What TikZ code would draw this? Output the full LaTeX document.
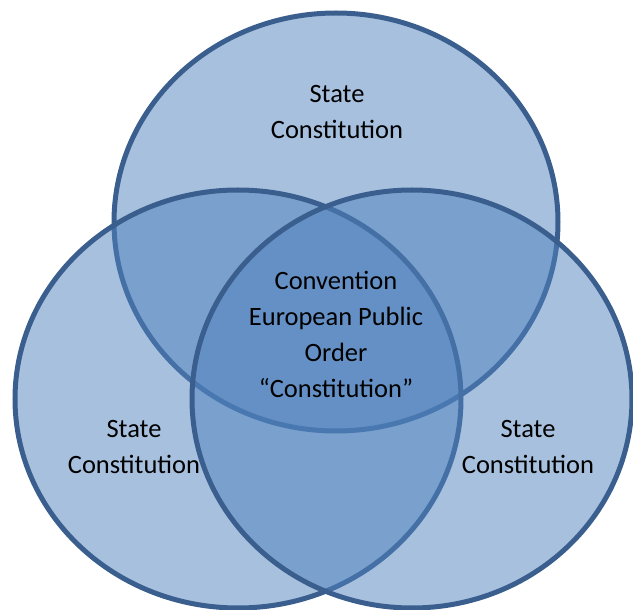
\documentclass[tikz,border=0pt]{standalone}
\usepackage{fontspec}
\setmainfont{Carlito}
\definecolor{setfill}{HTML}{4F81BD}
\definecolor{setline}{HTML}{3A5F8F}

\begin{document}
\begin{tikzpicture}[x=0.3mm,y=0.3mm,
    ring/.style={draw=setline, line width=1.5mm, fill=setfill, fill opacity=0.5},
    lbl/.style={align=center, text=black, font=\fontsize{22.6}{30.7}\selectfont}]
    \useasboundingbox (0,0) rectangle (633,610);
    % the three sets
    \coordinate (T) at (336,388);
    \coordinate (L) at (238,211);
    \coordinate (R) at (412,211);
    \draw [ring] (T) ellipse [x radius=222, y radius=209];
    \draw [ring] (L) ellipse [x radius=223, y radius=209];
    \draw [ring] (R) ellipse [x radius=220, y radius=209];
    % labels
    \node [lbl] (toplbl) at (337,498) {State\\Constitution};
    \node [lbl] (leftlbl) at (134,163) {State\\Constitution};
    \node [lbl] (rightlbl) at (528,163) {State\\Constitution};
    \node [lbl] (mid) at (336,276) {Convention\\European Public\\Order\\“Constitution”};
\end{tikzpicture}
\end{document}
